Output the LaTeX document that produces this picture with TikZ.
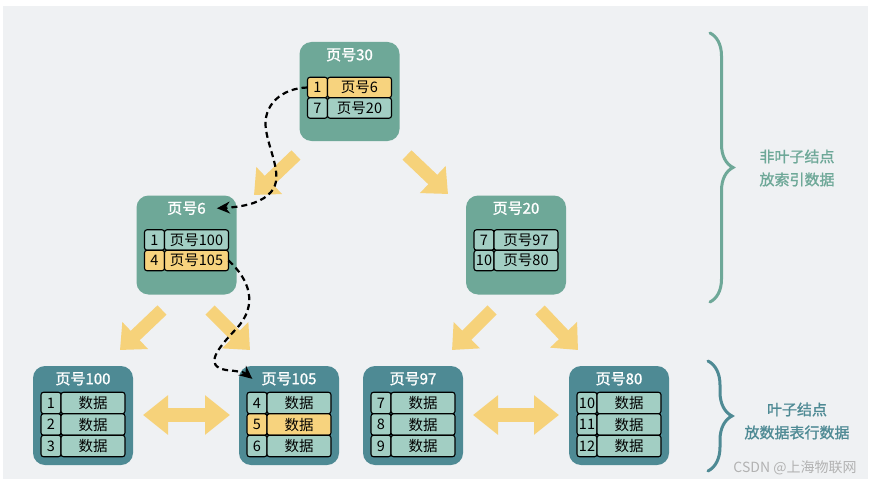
\documentclass[tikz,border=0pt]{standalone}
\usepackage{fontspec}
\setmainfont{Noto Sans CJK SC}
\newfontfamily\medfont[FakeBold=1.2]{Noto Sans CJK SC}
\usetikzlibrary{positioning, arrows.meta, decorations.pathreplacing}
\definecolor{bggray}{RGB}{239,241,243}
\definecolor{pageinner}{RGB}{110,168,152}
\definecolor{pageleaf}{RGB}{78,138,148}
\definecolor{cell}{RGB}{162,206,195}
\definecolor{hilite}{RGB}{247,211,126}
\definecolor{arrowy}{RGB}{246,210,122}

\tikzset{
  page/.style={rounded corners=12pt, minimum width=100pt, minimum height=99pt, inner sep=0pt},
  ttl/.style={text=white, font=\medfont\fontsize{15}{17}\selectfont, inner sep=2pt},
  idxcell/.style={draw, line width=1.1pt, rounded corners=2.5pt, fill=cell, minimum width=20pt, minimum height=20.5pt, inner sep=0pt, outer sep=0pt, font=\fontsize{14.5}{16}\selectfont},
  pgcell/.style={idxcell, minimum width=64pt},
  lidx/.style={idxcell, minimum height=21.5pt},
  datcell/.style={lidx, minimum width=64pt},
  hl/.style={fill=hilite},
  bigarrow/.style={draw=arrowy, line width=13pt, -{Triangle[length=21pt,width=36pt]}},
  twoway/.style={draw=arrowy, line width=14pt, {Triangle[length=25pt,width=38pt]}-{Triangle[length=25pt,width=38pt]}},
  trail/.style={draw=black, line width=2.2pt, dash pattern=on 6pt off 4pt, -{Stealth[length=13pt,width=12pt]}},
  brc/.style={decorate, decoration={brace, amplitude=23pt}, line width=3pt, line cap=round},
  side/.style={align=center, font=\medfont\fontsize{15}{23}\selectfont}
}

\begin{document}
\begin{tikzpicture}[x=1pt, y=-1pt]
  \useasboundingbox (0,0) rectangle (872,484);
  \fill[white] (0,0) rectangle (872,484);
  \fill[bggray] (3,6) rectangle (868,479);

  % root page
  \node[page, fill=pageinner] (n30) at (349.5,91.5) {};
  \node[ttl] (t30) at ([yshift=-13pt]n30.north) {页号30};
  \node[idxcell, hl] (i30a) at ([xshift=-32pt,yshift=4pt]n30.center) {1};
  \node[pgcell, hl, right=0pt of i30a] (p30a) {页号6};
  \node[idxcell, below=0pt of i30a] (i30b) {7};
  \node[pgcell, right=0pt of i30b] (p30b) {页号20};

  % second level
  \node[page, fill=pageinner] (n6) at (186.5,245) {};
  \node[ttl] (t6) at ([yshift=-13pt]n6.north) {页号6};
  \node[idxcell] (i6a) at ([xshift=-32pt,yshift=5pt]n6.center) {1};
  \node[pgcell, right=0pt of i6a] (p6a) {页号100};
  \node[idxcell, hl, below=0pt of i6a] (i6b) {4};
  \node[pgcell, hl, right=0pt of i6b] (p6b) {页号105};

  \node[page, fill=pageinner] (n20) at (516,245) {};
  \node[ttl] (t20) at ([yshift=-13pt]n20.north) {页号20};
  \node[idxcell] (i20a) at ([xshift=-32pt,yshift=5pt]n20.center) {7};
  \node[pgcell, right=0pt of i20a] (p20a) {页号97};
  \node[idxcell, below=0pt of i20a] (i20b) {10};
  \node[pgcell, right=0pt of i20b] (p20b) {页号80};

  % leaf pages
  \node[page, fill=pageleaf] (n100) at (83,415.5) {};
  \node[ttl] (t100) at ([yshift=-13pt]n100.north) {页号100};
  \node[lidx] (i100a) at ([xshift=-32pt,yshift=12.5pt]n100.center) {1};
  \node[datcell, right=0pt of i100a] (d100a) {数据};
  \node[lidx, below=0pt of i100a] (i100b) {2};
  \node[datcell, right=0pt of i100b] (d100b) {数据};
  \node[lidx, below=0pt of i100b] (i100c) {3};
  \node[datcell, right=0pt of i100c] (d100c) {数据};

  \node[page, fill=pageleaf] (n105) at (289,415.5) {};
  \node[ttl] (t105) at ([yshift=-13pt]n105.north) {页号105};
  \node[lidx] (i105a) at ([xshift=-32pt,yshift=12.5pt]n105.center) {4};
  \node[datcell, right=0pt of i105a] (d105a) {数据};
  \node[lidx, hl, below=0pt of i105a] (i105b) {5};
  \node[datcell, hl, right=0pt of i105b] (d105b) {数据};
  \node[lidx, below=0pt of i105b] (i105c) {6};
  \node[datcell, right=0pt of i105c] (d105c) {数据};

  \node[page, fill=pageleaf] (n97) at (413,415.5) {};
  \node[ttl] (t97) at ([yshift=-13pt]n97.north) {页号97};
  \node[lidx] (i97a) at ([xshift=-32pt,yshift=12.5pt]n97.center) {7};
  \node[datcell, right=0pt of i97a] (d97a) {数据};
  \node[lidx, below=0pt of i97a] (i97b) {8};
  \node[datcell, right=0pt of i97b] (d97b) {数据};
  \node[lidx, below=0pt of i97b] (i97c) {9};
  \node[datcell, right=0pt of i97c] (d97c) {数据};

  \node[page, fill=pageleaf] (n80) at (619,415.5) {};
  \node[ttl] (t80) at ([yshift=-13pt]n80.north) {页号80};
  \node[lidx] (i80a) at ([xshift=-32pt,yshift=12.5pt]n80.center) {10};
  \node[datcell, right=0pt of i80a] (d80a) {数据};
  \node[lidx, below=0pt of i80a] (i80b) {11};
  \node[datcell, right=0pt of i80b] (d80b) {数据};
  \node[lidx, below=0pt of i80b] (i80c) {12};
  \node[datcell, right=0pt of i80c] (d80c) {数据};

  % yellow arrows
  \coordinate (a1s) at (296,155); \coordinate (a1e) at (254,195);
  \coordinate (a2s) at (407,155); \coordinate (a2e) at (448,194);
  \coordinate (a3s) at (162,310); \coordinate (a3e) at (120,350);
  \coordinate (a4s) at (210,310); \coordinate (a4e) at (250,350);
  \coordinate (a5s) at (492,310); \coordinate (a5e) at (452,350);
  \coordinate (a6s) at (540,310); \coordinate (a6e) at (578,350);
  \draw[bigarrow] (a1s) -- (a1e);
  \draw[bigarrow] (a2s) -- (a2e);
  \draw[bigarrow] (a3s) -- (a3e);
  \draw[bigarrow] (a4s) -- (a4e);
  \draw[bigarrow] (a5s) -- (a5e);
  \draw[bigarrow] (a6s) -- (a6e);
  \coordinate (w1s) at (143,415); \coordinate (w1e) at (230,415);
  \coordinate (w2s) at (473,415); \coordinate (w2e) at (559,415);
  \draw[twoway] (w1s) -- (w1e);
  \draw[twoway] (w2s) -- (w2e);

  % search path
  \draw[trail] (i30a.west) .. controls (282,88) and (262,105) .. (266,130) .. controls (270,155) and (286,180) .. (268,195) .. controls (258,204) and (240,207) .. ([xshift=9pt]t6.east);
  \draw[trail] (p6b.east) .. controls (250,280) and (258,305) .. (237,328) .. controls (218,348) and (203,366) .. (226,370) .. controls (236,371) and (244,372) .. ([xshift=-7pt]t105.west);

  % braces and notes
  \coordinate (b1) at (710,33); \coordinate (b2) at (710,302);
  \coordinate (b3) at (708,361); \coordinate (b4) at (708,471);
  \draw[brc, draw=pageinner] (b1) -- (b2);
  \draw[brc, draw=pageleaf, decoration={amplitude=24pt}] (b3) -- (b4);
  \node[side, text=pageinner] (noteup) at (797,168) {非叶子结点\\放索引数据};
  \node[side, text=pageleaf] (notelow) at (797,421) {叶子结点\\放数据表行数据};
  \node[text=black!30, font=\fontsize{14}{16}\selectfont] (mark) at (795,468) {CSDN @上海物联网};
\end{tikzpicture}
\end{document}
